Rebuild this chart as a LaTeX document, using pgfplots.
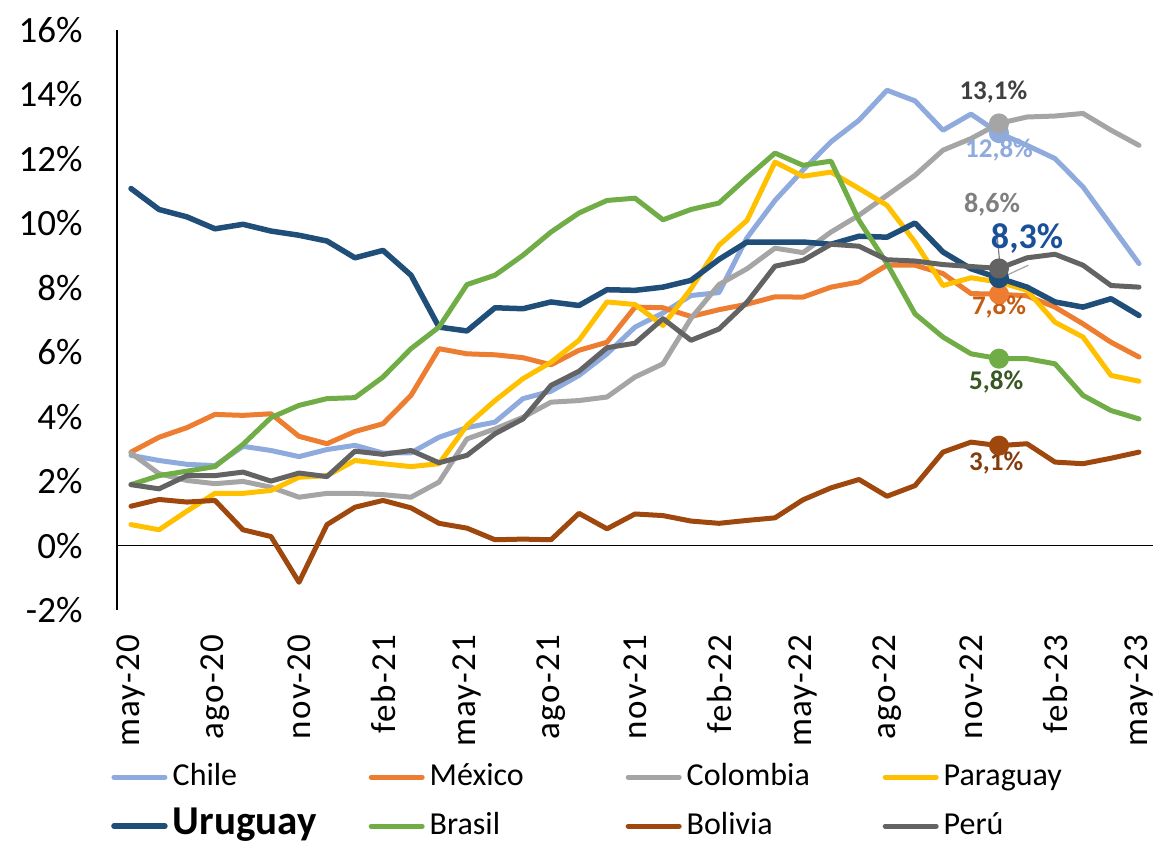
\documentclass[border=0pt]{standalone}
\usepackage{fontspec}
\setmainfont{Carlito}
\newfontfamily\tickfont[LetterSpace=4]{Carlito}
\usepackage{pgfplots}
\pgfplotsset{compat=1.18}
\usepackage{pgfplotstable}

\definecolor{cchile}{HTML}{8FAADC}
\definecolor{cmex}{HTML}{ED7D31}
\definecolor{ccol}{HTML}{A5A5A5}
\definecolor{cpar}{HTML}{FFC000}
\definecolor{curu}{HTML}{1F4E79}
\definecolor{cbra}{HTML}{70AD47}
\definecolor{cbol}{HTML}{9E480E}
\definecolor{cper}{HTML}{636363}
\definecolor{lcol}{HTML}{404040}
\definecolor{lper}{HTML}{7F7F7F}
\definecolor{luru}{HTML}{1A4F99}
\definecolor{lmex}{HTML}{C55A11}
\definecolor{lbra}{HTML}{385723}
\definecolor{lbol}{HTML}{843C0C}

\pgfplotstableread{
idx chile mexico colombia paraguay uruguay brasil bolivia peru
0  2.80 2.90 2.87 0.65 11.08 1.89 1.22 1.89
1  2.64 3.36 2.23 0.49 10.43 2.17 1.43 1.76
2  2.52 3.66 2.02 1.07 10.20 2.31 1.35 2.17
3  2.48 4.07 1.92 1.62 9.83 2.45 1.40 2.17
4  3.08 4.04 1.99 1.62 9.97 3.14 0.49 2.28
5  2.95 4.09 1.81 1.71 9.76 3.97 0.28 2.00
6  2.76 3.39 1.50 2.12 9.63 4.35 -1.14 2.25
7  2.98 3.16 1.62 2.17 9.45 4.56 0.65 2.14
8  3.11 3.54 1.62 2.64 8.93 4.59 1.19 2.93
9  2.87 3.78 1.58 2.54 9.16 5.23 1.40 2.83
10 2.88 4.66 1.50 2.45 8.39 6.11 1.17 2.95
11 3.36 6.11 1.97 2.54 6.78 6.78 0.69 2.57
12 3.66 5.95 3.31 3.73 6.66 8.10 0.54 2.80
13 3.83 5.92 3.62 4.50 7.38 8.39 0.18 3.47
14 4.56 5.83 3.98 5.18 7.35 9.01 0.20 3.93
15 4.79 5.61 4.45 5.69 7.56 9.73 0.18 4.97
16 5.28 6.06 4.50 6.37 7.45 10.32 1.00 5.41
17 5.95 6.31 4.61 7.56 7.94 10.71 0.52 6.14
18 6.78 7.40 5.23 7.48 7.92 10.78 0.98 6.28
19 7.22 7.38 5.64 6.83 8.02 10.11 0.93 7.04
20 7.76 7.11 7.05 7.97 8.23 10.43 0.76 6.37
21 7.85 7.32 8.10 9.32 8.88 10.63 0.69 6.72
22 9.55 7.49 8.59 10.09 9.42 11.42 0.78 7.55
23 10.71 7.72 9.23 11.90 9.42 12.18 0.86 8.67
24 11.65 7.71 9.09 11.46 9.42 11.80 1.42 8.85
25 12.53 8.02 9.73 11.59 9.35 11.93 1.79 9.35
26 13.20 8.18 10.25 11.08 9.60 10.09 2.05 9.29
27 14.13 8.70 10.87 10.56 9.57 8.75 1.53 8.87
28 13.80 8.70 11.49 9.42 10.01 7.19 1.86 8.83
29 12.89 8.44 12.27 8.07 9.11 6.47 2.90 8.72
30 13.39 7.82 12.63 8.31 8.59 5.95 3.21 8.66
31 12.80 7.80 13.10 8.18 8.30 5.80 3.10 8.60
32 12.42 7.75 13.30 7.92 8.02 5.80 3.16 8.93
33 12.01 7.40 13.33 6.93 7.56 5.64 2.59 9.04
34 11.13 6.88 13.41 6.47 7.40 4.66 2.54 8.70
35 9.94 6.31 12.89 5.28 7.66 4.19 2.71 8.07
36 8.75 5.85 12.42 5.10 7.14 3.93 2.90 8.02
}\datatable

\begin{document}
\begin{tikzpicture}[x=1pt,y=1pt]
\useasboundingbox (0,0) rectangle (1156,843);
\begin{axis}[
  at={(117pt,233pt)}, anchor=south west,
  scale only axis, width=1036pt, height=580pt,
  xmin=-0.5, xmax=36.5, ymin=-2, ymax=16,
  clip=false,
  axis x line*=bottom, x axis line style={draw=none},
  axis y line*=left, y axis line style={black, line width=1.3pt, -},
  major tick length=0pt,
  ytick={-2,0,2,4,6,8,10,12,14,16},
  yticklabels={-2\%,0\%,2\%,4\%,6\%,8\%,10\%,12\%,14\%,16\%},
  yticklabel style={font=\fontsize{37}{37}\selectfont, anchor=east, xshift=-31pt},
  xtick={0,3,...,36},
  xticklabels={may-20,ago-20,nov-20,feb-21,may-21,ago-21,nov-21,feb-22,may-22,ago-22,nov-22,feb-23,may-23},
  xticklabel style={font=\tickfont\fontsize{35}{35}\selectfont, rotate=90, anchor=east, xshift=-21pt},
  every axis plot/.append style={line width=5pt, line join=round, line cap=round},
  legend columns=4,
  legend cell align=left,
  legend image code/.code={\draw[#1, line cap=round] (0pt,0pt) -- (51pt,0pt);},
  legend style={draw=none, fill=none, at={(0.0,-0.25)}, anchor=north west, inner sep=0pt,
    xshift=-6pt, yshift=-8pt,
    font=\fontsize{32}{32}\selectfont,
    nodes={inner sep=0pt, text height=22pt, text depth=6pt},
    row sep=21pt,
    /tikz/every odd column/.append style={column sep=5pt},
    /tikz/every even column/.append style={text width=196pt}},
]
\addplot[black, line width=1.3pt, line cap=butt, forget plot] coordinates {(-0.5,0) (36.5,0)};
\addplot[cchile] table[x=idx,y=chile] {\datatable};
\addlegendentry{Chile}
\addplot[cmex] table[x=idx,y=mexico] {\datatable};
\addlegendentry{México}
\addplot[ccol] table[x=idx,y=colombia] {\datatable};
\addlegendentry{Colombia}
\addplot[cpar] table[x=idx,y=paraguay] {\datatable};
\addlegendentry{Paraguay}
\addplot[curu, line width=5.5pt] table[x=idx,y=uruguay] {\datatable};
\addlegendentry{\fontsize{41}{41}\selectfont\bfseries Uruguay}
\addplot[cbra] table[x=idx,y=brasil] {\datatable};
\addlegendentry{Brasil}
\addplot[cbol] table[x=idx,y=bolivia] {\datatable};
\addlegendentry{Bolivia}
\addplot[cper] table[x=idx,y=peru] {\datatable};
\addlegendentry{Perú}

% markers at dec-22
\addplot[only marks, mark=*, mark size=7.5pt, cchile, forget plot] coordinates {(31,12.8)};
\addplot[only marks, mark=*, mark size=7.5pt, ccol, forget plot] coordinates {(31,13.1)};
\addplot[only marks, mark=*, mark size=7.5pt, cmex, forget plot] coordinates {(31,7.8)};
\addplot[only marks, mark=*, mark size=7.5pt, curu, forget plot] coordinates {(31,8.3)};
\addplot[only marks, mark=*, mark size=7.5pt, cbra, forget plot] coordinates {(31,5.8)};
\addplot[only marks, mark=*, mark size=7.5pt, cbol, forget plot] coordinates {(31,3.1)};
\addplot[only marks, mark=*, mark size=7.5pt, cper, forget plot] coordinates {(31,8.6)};

% leader lines
\draw[lper, line width=1.2pt] (axis cs:30.9,9.88) -- (axis cs:31.05,8.6);
\draw[ccol, line width=1.2pt] (axis cs:31.05,8.3) -- (axis cs:32.05,8.7);

% data labels
\node[font=\bfseries\fontsize{27}{27}\selectfont, text=lcol] at (axis cs:30.8,14.07) {13,1\%};
\node[font=\bfseries\fontsize{27}{27}\selectfont, text=cchile] at (axis cs:31.0,12.27) {12,8\%};
\node[font=\bfseries\fontsize{28}{28}\selectfont, text=lper] at (axis cs:30.75,10.59) {8,6\%};
\node[font=\bfseries\fontsize{36}{36}\selectfont, text=luru] at (axis cs:32.0,9.53) {8,3\%};
\node[font=\bfseries\fontsize{27}{27}\selectfont, text=lmex] at (axis cs:31.0,7.39) {7,8\%};
\node[font=\bfseries\fontsize{27}{27}\selectfont, text=lbra] at (axis cs:30.9,5.09) {5,8\%};
\node[font=\bfseries\fontsize{27}{27}\selectfont, text=lbol] at (axis cs:30.9,2.55) {3,1\%};
\end{axis}
\end{tikzpicture}
\end{document}
